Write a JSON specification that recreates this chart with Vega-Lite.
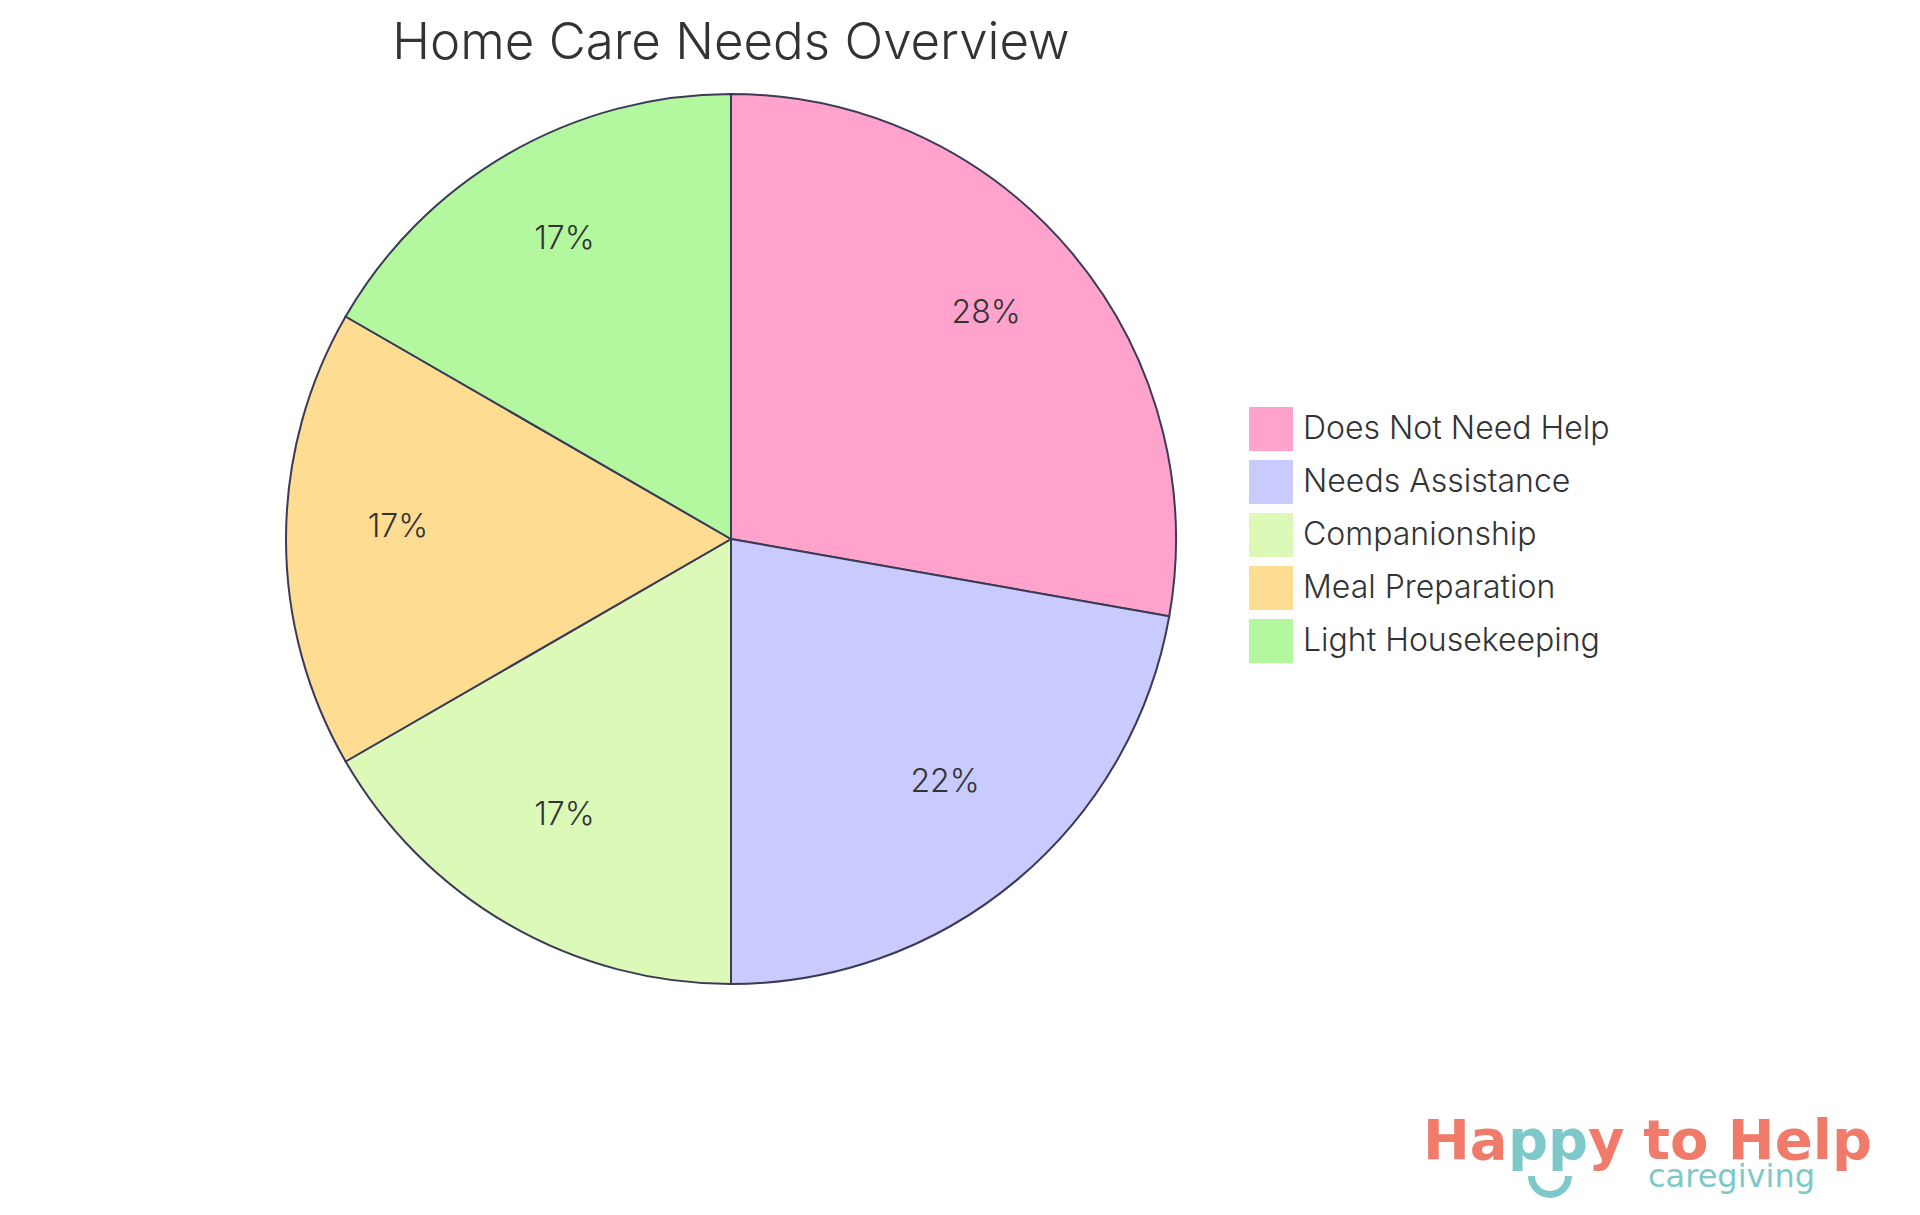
{
  "$schema": "https://vega.github.io/schema/vega-lite/v6.json",
  "width": 1462,
  "height": 918,
  "padding": {"left": 0, "top": 18, "right": 0, "bottom": 0},
  "background": "white",
  "title": {
    "text": "Home Care Needs Overview",
    "font": "Inter",
    "fontSize": 51,
    "fontWeight": 300,
    "color": "#333333",
    "anchor": "middle",
    "frame": "group",
    "offset": 10
  },
  "config": {"view": {"stroke": null}},
  "data": {
    "values": [
      {"category": "Does Not Need Help", "count": 5, "pct": "28%", "ord": 1},
      {"category": "Needs Assistance", "count": 4, "pct": "22%", "ord": 2},
      {"category": "Companionship", "count": 3, "pct": "17%", "ord": 3},
      {"category": "Meal Preparation", "count": 3, "pct": "17%", "ord": 4},
      {"category": "Light Housekeeping", "count": 3, "pct": "17%", "ord": 5}
    ]
  },
  "layer": [
    {
      "mark": {"type": "arc", "outerRadius": 445, "stroke": "#3b3b58", "strokeWidth": 2},
      "encoding": {
        "theta": {"field": "count", "type": "quantitative", "stack": true},
        "order": {"field": "ord", "type": "quantitative"},
        "color": {
          "field": "category",
          "type": "nominal",
          "scale": {
            "domain": ["Does Not Need Help", "Needs Assistance", "Companionship", "Meal Preparation", "Light Housekeeping"],
            "range": ["#FFA3CC", "#C9CAFE", "#DCF9B8", "#FEDD92", "#B3F79E"]
          },
          "legend": {
            "title": null,
            "orient": "none",
            "legendX": 1249,
            "legendY": 327,
            "symbolType": "square",
            "symbolSize": 1936,
            "symbolStrokeWidth": 0,
            "labelFont": "Inter",
            "labelFontSize": 32,
            "labelFontWeight": 300,
            "labelColor": "#333333",
            "labelOffset": 10,
            "rowPadding": 9,
            "labelLimit": 600
          }
        }
      }
    },
    {
      "mark": {"type": "text", "radius": 333, "dy": -12, "font": "Inter", "fontSize": 32, "fontWeight": 300, "color": "#333333"},
      "encoding": {
        "theta": {"field": "count", "type": "quantitative", "stack": true},
        "order": {"field": "ord", "type": "quantitative"},
        "text": {"field": "pct", "type": "nominal"}
      }
    },
    {
      "data": {"values": [{"t": "Ha"}]},
      "mark": {"type": "text", "font": "DejaVu Sans", "fontWeight": "bold", "fontSize": 56, "color": "#F07B6B", "align": "left", "baseline": "alphabetic"},
      "encoding": {"text": {"field": "t"}, "x": {"value": 1423}, "y": {"value": 1079}}
    },
    {
      "data": {"values": [{"t": "pp"}]},
      "mark": {"type": "text", "font": "DejaVu Sans", "fontWeight": "bold", "fontSize": 56, "color": "#7DC9C9", "align": "left", "baseline": "alphabetic"},
      "encoding": {"text": {"field": "t"}, "x": {"value": 1508}, "y": {"value": 1079}}
    },
    {
      "data": {"values": [{"t": "y"}]},
      "mark": {"type": "text", "font": "DejaVu Sans", "fontWeight": "bold", "fontSize": 56, "color": "#F07B6B", "align": "left", "baseline": "alphabetic"},
      "encoding": {"text": {"field": "t"}, "x": {"value": 1588}, "y": {"value": 1079}}
    },
    {
      "data": {"values": [{"t": "to Help"}]},
      "mark": {"type": "text", "font": "DejaVu Sans", "fontWeight": "bold", "fontSize": 56, "color": "#F07B6B", "align": "right", "baseline": "alphabetic"},
      "encoding": {"text": {"field": "t"}, "x": {"value": 1872}, "y": {"value": 1079}}
    },
    {
      "data": {"values": [{"t": "caregiving"}]},
      "mark": {"type": "text", "font": "DejaVu Sans", "fontWeight": "normal", "fontSize": 32, "color": "#7DC9C9", "align": "left", "baseline": "alphabetic"},
      "encoding": {"text": {"field": "t"}, "x": {"value": 1648}, "y": {"value": 1107}}
    },
    {
      "data": {"values": [{"t": "smile"}]},
      "mark": {"type": "arc", "color": "#7DC9C9", "theta": 1.5708, "theta2": 4.7124, "radius": 22, "radius2": 15},
      "encoding": {"x": {"value": 1550}, "y": {"value": 1096}}
    }
  ]
}
